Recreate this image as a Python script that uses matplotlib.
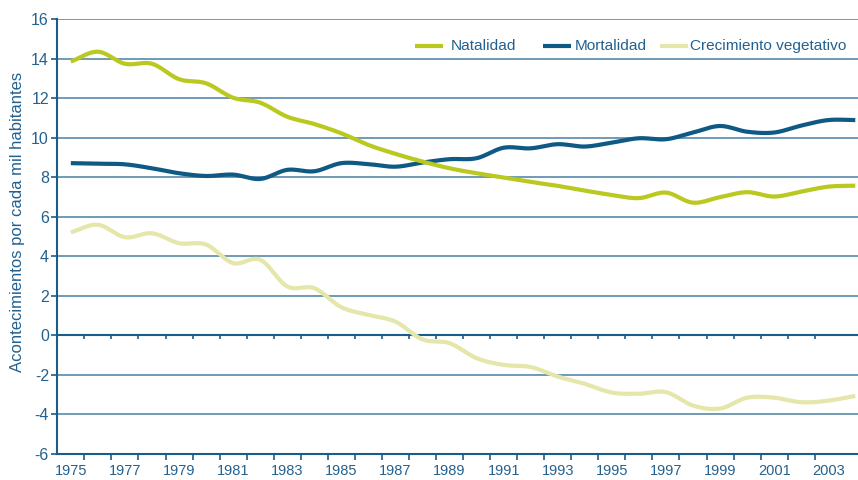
import numpy as np
import matplotlib
matplotlib.use("Agg")
import matplotlib.pyplot as plt
from matplotlib.lines import Line2D

years = list(range(1975, 2005))
natalidad = [13.86, 14.36, 13.75, 13.75, 12.97, 12.76, 12.03, 11.78, 11.07, 10.70,
             10.23, 9.64, 9.19, 8.80, 8.46, 8.21, 7.99, 7.77, 7.57, 7.33,
             7.11, 6.95, 7.23, 6.72, 7.00, 7.25, 7.03, 7.28, 7.53, 7.58]
mortalidad = [8.72, 8.69, 8.66, 8.46, 8.21, 8.07, 8.14, 7.92, 8.38, 8.31,
              8.72, 8.67, 8.54, 8.75, 8.92, 8.97, 9.50, 9.47, 9.68, 9.56,
              9.76, 9.98, 9.93, 10.27, 10.60, 10.31, 10.27, 10.62, 10.90, 10.90]
crecimiento = [5.22, 5.60, 4.97, 5.17, 4.67, 4.60, 3.66, 3.83, 2.48, 2.39,
               1.43, 1.04, 0.70, -0.20, -0.39, -1.15, -1.49, -1.60, -2.08, -2.45,
               -2.89, -2.95, -2.87, -3.55, -3.70, -3.15, -3.15, -3.38, -3.30, -3.06]
series_names = ["Natalidad", "Mortalidad", "Crecimiento vegetativo"]
yticks = list(range(-6, 17, 2))

c_nat = "#b9c91f"
c_mor = "#0e5a85"
c_cre = "#e4e7a9"
c_txt = "#23618f"
c_grid = "#6f9ab7"
c_axis = "#1a5d88"

FONT = ["Liberation Sans", "DejaVu Sans"]
plt.rcParams["font.family"] = FONT


def smooth(x, y, n=24):
    x = np.asarray(x, float)
    y = np.asarray(y, float)
    P = np.column_stack([x, y])
    P = np.vstack([P[0] - (P[1] - P[0]), P, P[-1] + (P[-1] - P[-2])])
    out = []
    t = np.linspace(0, 1, n, endpoint=False)[:, None]
    for i in range(1, len(P) - 2):
        p0, p1, p2, p3 = P[i - 1], P[i], P[i + 1], P[i + 2]
        seg = 0.5 * ((2 * p1) + (-p0 + p2) * t + (2 * p0 - 5 * p1 + 4 * p2 - p3) * t ** 2
                     + (-p0 + 3 * p1 - 3 * p2 + p3) * t ** 3)
        out.append(seg)
    out.append(P[-2][None, :])
    out = np.vstack(out)
    return out[:, 0], out[:, 1]


fig = plt.figure(figsize=(8.58, 4.8), dpi=100)
ax = fig.add_axes([57.3 / 858, 1 - 454 / 480, 1 - 57.3 / 858, (454 - 19.3) / 480])

idx = np.arange(len(years))
ax.set_xlim(-0.5, 29.1)
ax.set_ylim(-6, 16)

# grid lines
for v in yticks:
    if v in (0, -6):
        continue
    ax.axhline(v, color=c_grid, lw=1.4, zorder=1)
ax.axhline(0, color=c_axis, lw=1.5, zorder=1)
bounds = idx[:-1] + 0.5
ax.vlines(bounds[:28], 0, -0.18, color=c_axis, lw=1.2, zorder=1)

for data, col in [(crecimiento, c_cre), (mortalidad, c_mor), (natalidad, c_nat)]:
    sx, sy = smooth(idx, data)
    ax.plot(sx, sy, color=col, lw=3.0, solid_capstyle="butt", zorder=3)

for s in ["top", "right"]:
    ax.spines[s].set_visible(False)
ax.spines["left"].set_color(c_axis)
ax.spines["bottom"].set_color(c_axis)
ax.spines["left"].set_linewidth(1.5)
ax.spines["bottom"].set_linewidth(1.5)

ax.set_yticks(yticks)
ax.set_yticklabels([str(v) for v in yticks])
ax.tick_params(axis="y", colors=c_axis, labelcolor=c_txt, labelsize=11.5, length=4, width=1.2, pad=2)

ax.set_xticks(idx[::2])
ax.set_xticklabels([str(y) for y in years[::2]])
ax.set_xticks(bounds[:28], minor=True)
ax.tick_params(axis="x", which="major", length=0, labelcolor=c_txt, labelsize=10.5, pad=7.5)
ax.tick_params(axis="x", which="minor", length=4.5, width=1.2, color=c_axis, direction="out")

fig.text(18 / 858, 1 - 222 / 480, "Acontecimientos por cada mil habitantes", rotation=90,
         ha="center", va="center", color=c_txt, fontsize=12)

# legend
leg = [(415, 443, 451, series_names[0], c_nat),
       (543, 571, 575, series_names[1], c_mor),
       (660, 688, 690, series_names[2], c_cre)]
ly = 1 - 46 / 480
for x0, x1, xt, name, col in leg:
    fig.add_artist(Line2D([x0 / 858, x1 / 858], [ly, ly], color=col, lw=3.0,
                          solid_capstyle="butt", transform=fig.transFigure))
    fig.text(xt / 858, ly, name, ha="left", va="center", color=c_txt, fontsize=11.1)

fig.savefig("out.png", dpi=100)
